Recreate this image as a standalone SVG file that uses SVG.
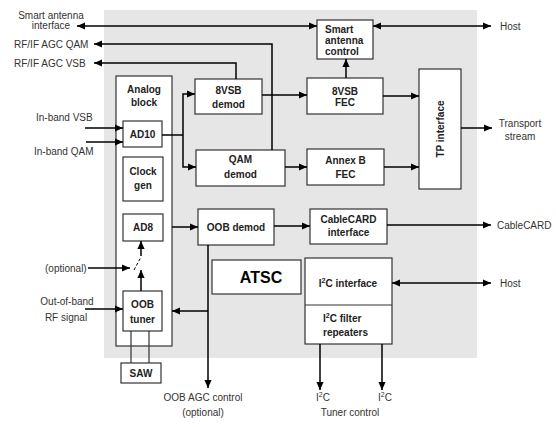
<svg xmlns="http://www.w3.org/2000/svg" width="556" height="427" viewBox="0 0 556 427">
<defs>
<marker id="ah" viewBox="0 0 10 10" refX="10" refY="5" markerWidth="8" markerHeight="8" markerUnits="userSpaceOnUse" orient="auto-start-reverse">
<path d="M0,0.5 L10,5 L0,9.5 z" fill="#000"/>
</marker>
<style>
.box{fill:#fff;stroke:#333;stroke-width:1.2}
.bt{font-family:"Liberation Sans",Arial,sans-serif;font-size:10px;font-weight:bold;fill:#222}
.lt{font-family:"Liberation Sans",Arial,sans-serif;font-size:10px;fill:#333}
.c{text-anchor:middle}
.ln{fill:none;stroke:#000;stroke-width:1.5}
.a{marker-end:url(#ah)}
.a2{marker-start:url(#ah);marker-end:url(#ah)}
</style>
</defs>
<rect width="556" height="427" fill="#fff"/>
<rect x="104" y="10" width="373" height="348" fill="#e6e6e6"/>

<g id="analog-block"><rect class="box" x="116" y="76" width="56" height="270"/><text class="bt c" x="144" y="93">Analog</text><text class="bt c" x="144" y="106">block</text></g>
<g id="ad10"><rect class="box" x="123" y="121" width="39" height="26"/><text class="bt c" x="142.5" y="138">AD10</text></g>
<g id="clock-gen"><rect class="box" x="123" y="157" width="40" height="44"/><text class="bt c" x="143" y="175">Clock</text><text class="bt c" x="143" y="189">gen</text></g>
<g id="ad8"><rect class="box" x="123" y="214" width="40" height="27"/><text class="bt c" x="143" y="231">AD8</text></g>
<g id="oob-tuner"><rect class="box" x="123" y="291" width="39" height="40"/><text class="bt c" x="142.5" y="308">OOB</text><text class="bt c" x="142.5" y="323">tuner</text></g>
<g id="saw"><rect class="box" x="121" y="363" width="40" height="20"/><text class="bt c" x="141" y="377">SAW</text></g>
<g id="vsb-demod"><rect class="box" x="195" y="79" width="67" height="35"/><text class="bt c" x="228.5" y="94">8VSB</text><text class="bt c" x="228.5" y="108">demod</text></g>
<g id="qam-demod"><rect class="box" x="196" y="150" width="89" height="36"/><text class="bt c" x="240.5" y="163">QAM</text><text class="bt c" x="240.5" y="178">demod</text></g>
<g id="smart-antenna-control"><rect class="box" x="317" y="20" width="56" height="39"/><text class="bt" x="325" y="33">Smart</text><text class="bt" x="325" y="44">antenna</text><text class="bt" x="325" y="55">control</text></g>
<g id="vsb-fec"><rect class="box" x="307" y="78" width="76" height="36"/><text class="bt c" x="345" y="94.5">8VSB</text><text class="bt c" x="345" y="106">FEC</text></g>
<g id="annexb-fec"><rect class="box" x="307" y="149" width="77" height="36"/><text class="bt c" x="345.5" y="163.5">Annex B</text><text class="bt c" x="345.5" y="177.5">FEC</text></g>
<g id="tp-interface"><rect class="box" x="419" y="69" width="42" height="120"/><text class="bt c" transform="translate(444,129) rotate(-90)" x="0" y="0">TP interface</text></g>
<g id="oob-demod"><rect class="box" x="198" y="209" width="76" height="36"/><text class="bt c" x="236" y="230.5">OOB demod</text></g>
<g id="cablecard-interface"><rect class="box" x="310" y="209" width="77" height="35"/><text class="bt c" x="348.5" y="222.5">CableCARD</text><text class="bt c" x="348.5" y="235.5">interface</text></g>
<g id="atsc"><rect class="box" x="212" y="260" width="89" height="34"/><text x="261" y="283" text-anchor="middle" font-family="'Liberation Sans',Arial,sans-serif" font-size="16" font-weight="bold" fill="#000">ATSC</text></g>
<g id="i2c"><rect class="box" x="305" y="258" width="87" height="86"/><line x1="305" y1="305" x2="392" y2="305" stroke="#333" stroke-width="1.2"/>
<text class="bt c" x="348" y="286.5">I<tspan dy="-4" font-size="7">2</tspan><tspan dy="4">C interface</tspan></text>
<text class="bt" x="323" y="321.5">I<tspan dy="-4" font-size="7">2</tspan><tspan dy="4">C filter</tspan></text>
<text class="bt" x="323" y="335.5">repeaters</text></g>

<g id="labels">
<text class="lt c" x="51" y="18.5">Smart antenna</text>
<text class="lt c" x="51" y="29">interface</text>
<text class="lt" x="14" y="47.5">RF/IF AGC QAM</text>
<text class="lt" x="14" y="66.5">RF/IF AGC VSB</text>
<text class="lt" x="36" y="120.5">In-band VSB</text>
<text class="lt" x="34" y="154.5">In-band QAM</text>
<text class="lt" x="45" y="271.5">(optional)</text>
<text class="lt c" x="67" y="304.5">Out-of-band</text>
<text class="lt c" x="66" y="320.5">RF signal</text>
<text class="lt c" x="203" y="400.5">OOB AGC control</text>
<text class="lt c" x="203" y="415.5">(optional)</text>
<text class="lt" x="323" y="400.5" text-anchor="middle">I<tspan dy="-4" font-size="7">2</tspan><tspan dy="4">C</tspan></text>
<text class="lt" x="385" y="400.5" text-anchor="middle">I<tspan dy="-4" font-size="7">2</tspan><tspan dy="4">C</tspan></text>
<text class="lt c" x="350" y="415.5">Tuner control</text>
<text class="lt" x="500" y="30">Host</text>
<text class="lt c" x="520" y="126.5">Transport</text>
<text class="lt c" x="520" y="139.5">stream</text>
<text class="lt" x="497" y="228.5">CableCARD</text>
<text class="lt" x="500" y="286.5">Host</text>
</g>

<g id="connectors">
<line class="ln a2" x1="77" y1="26" x2="317" y2="26"/>
<line class="ln a2" x1="373" y1="26" x2="491" y2="26"/>
<polyline class="ln a" points="272,150 272,44 94,44"/>
<polyline class="ln a" points="236,79 236,63 94,63"/>
<line class="ln a" x1="85" y1="128" x2="123" y2="128"/>
<line class="ln a" x1="86" y1="142" x2="123" y2="142"/>
<polyline class="ln" points="162,135 183,135"/>
<polyline class="ln a" points="183,135 183,94 195,94"/>
<polyline class="ln a" points="183,135 183,167 196,167"/>
<line class="ln a" x1="262" y1="95" x2="307" y2="95"/>
<line class="ln a" x1="285" y1="167" x2="307" y2="167"/>
<line class="ln a" x1="346" y1="78" x2="346" y2="59"/>
<line class="ln a" x1="383" y1="96" x2="419" y2="96"/>
<line class="ln a" x1="384" y1="167" x2="419" y2="167"/>
<line class="ln a" x1="461" y1="128" x2="492" y2="128"/>
<line class="ln a" x1="172" y1="227" x2="198" y2="227"/>
<line class="ln a" x1="274" y1="226" x2="310" y2="226"/>
<line class="ln a" x1="387" y1="225" x2="491" y2="225"/>
<line class="ln a" x1="208" y1="245" x2="208" y2="388"/>
<line class="ln a" x1="208" y1="311" x2="172" y2="311"/>
<line class="ln a2" x1="392" y1="283" x2="491" y2="283"/>
<line class="ln a" x1="320" y1="344" x2="320" y2="390"/>
<line class="ln a" x1="382" y1="344" x2="382" y2="390"/>
<line class="ln a" x1="88" y1="268" x2="130" y2="268"/>
<line class="ln a" x1="85" y1="309" x2="123" y2="309"/>
<line class="ln a" x1="141" y1="291" x2="141" y2="270"/>
<line class="ln a" x1="141" y1="256" x2="141" y2="241"/>
<line x1="134" y1="270" x2="141" y2="257" stroke="#000" stroke-width="1" stroke-dasharray="3,2"/>
<line x1="131" y1="331" x2="131" y2="363" stroke="#333" stroke-width="1.2"/>
<line x1="149" y1="331" x2="149" y2="363" stroke="#333" stroke-width="1.2"/>
</g>
</svg>
